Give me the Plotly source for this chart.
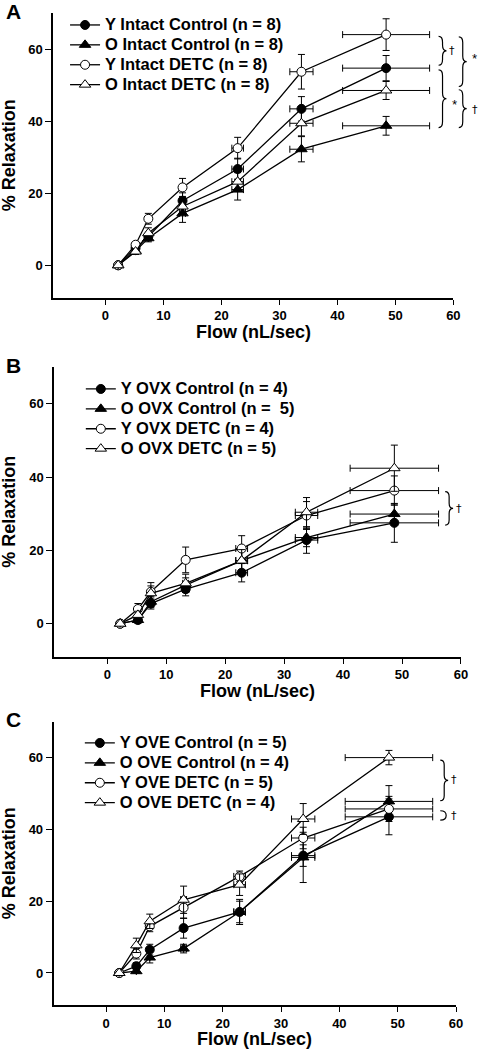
import plotly.graph_objects as go

W, H = 486, 1050
FONT = "Liberation Sans, Arial, sans-serif"

# ---------------- data ----------------
flow_A = [2.2, 5.2, 7.4, 13.3, 22.8, 33.8, 48.4]
flow_A_err = [0, 0, 0, 0.5, 1.0, 2.0, 7.5]
names_A = ["Y Intact Control (n = 8)", "O Intact Control (n = 8)",
           "Y Intact DETC (n = 8)", "O Intact DETC (n = 8)"]
y_A = [
    [0, 4.8, 8.0, 17.9, 26.7, 43.4, 54.7],
    [0, 4.0, 7.5, 14.4, 21.0, 32.2, 38.7],
    [0, 5.7, 12.9, 21.6, 32.5, 53.7, 64.0],
    [0, 3.8, 8.9, 16.3, 23.2, 39.4, 48.5],
]
err_A = [
    [0, 0.8, 1.2, 2.2, 3.0, 3.4, 3.5],
    [0, 0.8, 1.0, 2.5, 2.9, 3.5, 2.6],
    [0, 0.8, 1.5, 2.5, 3.0, 4.8, 4.4],
    [0, 0.8, 1.5, 2.0, 2.5, 3.5, 2.5],
]

flow_B = [2.2, 5.2, 7.4, 13.3, 22.8, 33.8, 48.7]
flow_B_err = [0, 0, 0, 0.5, 1.0, 1.9, 7.5]
names_B = ["Y OVX Control (n = 4)", "O OVX Control (n =  5)",
           "Y OVX DETC (n = 4)", "O OVX DETC (n = 5)"]
y_B = [
    [0, 1.0, 5.5, 9.4, 13.9, 22.8, 27.5],
    [0, 1.0, 6.0, 10.5, 17.2, 23.5, 29.9],
    [0, 4.0, 8.7, 17.4, 20.5, 29.5, 36.3],
    [0, 2.4, 8.3, 11.0, 17.2, 30.4, 42.4],
]
err_B = [
    [0, 0.8, 1.5, 1.8, 2.5, 3.6, 5.3],
    [0, 0.8, 1.5, 2.0, 2.5, 2.5, 2.7],
    [0, 1.5, 2.5, 3.5, 3.5, 3.8, 4.0],
    [0, 1.0, 2.0, 2.5, 3.0, 4.0, 6.3],
]

flow_C = [2.26, 5.2, 7.5, 13.3, 22.9, 33.8, 48.5]
flow_C_err = [0, 0, 0, 0.5, 1.0, 2.0, 7.5]
names_C = ["Y OVE Control (n = 5)", "O OVE Control (n = 4)",
           "Y OVE DETC (n = 5)", "O OVE DETC (n = 4)"]
y_C = [
    [0, 1.9, 6.5, 12.5, 17.0, 32.7, 43.5],
    [0, 0.5, 4.3, 6.8, 17.0, 32.2, 47.8],
    [0, 5.4, 13.0, 18.2, 26.9, 37.6, 45.7],
    [0, 7.7, 14.4, 20.4, 24.6, 42.9, 60.0],
]
err_C = [
    [0, 1.0, 1.5, 2.8, 3.0, 3.0, 5.0],
    [0, 0.5, 1.5, 1.2, 3.5, 7.0, 4.4],
    [0, 1.5, 1.5, 3.0, 1.5, 3.0, 3.5],
    [0, 2.0, 2.0, 3.8, 3.0, 4.3, 2.0],
]

x_ticks = [0, 10, 20, 30, 40, 50, 60]
y_ticks = [0, 20, 40, 60]
panel_letters = ["A", "B", "C"]

# ---------------- styles ----------------
symbols = ["circle", "triangle-up", "circle", "triangle-up"]
fills = ["black", "black", "white", "white"]
sizes = [9, 10, 9, 10]

# pixel geometry for panels: (x0, x1, ytop, ybottom)
panels_px = [(54, 460, 13, 297.7), (55, 467.7, 367, 656.7), (54.3, 462.7, 721.7, 1005.3)]

fig = go.Figure()

datasets = [(flow_A, flow_A_err, names_A, y_A, err_A),
            (flow_B, flow_B_err, names_B, y_B, err_B),
            (flow_C, flow_C_err, names_C, y_C, err_C)]

legend_keys = ["legend", "legend2", "legend3"]
for p, (fx, fxe, names, ys, es) in enumerate(datasets):
    xa = "x" if p == 0 else f"x{p+1}"
    ya = "y" if p == 0 else f"y{p+1}"
    for i in range(4):
        fig.add_trace(go.Scatter(
            x=fx, y=ys[i],
            name=f'<span style="font-size:16.5px">{names[i]}</span>',
            mode="lines+markers",
            xaxis=xa, yaxis=ya, legend=legend_keys[p],
            line=dict(color="black", width=1.3),
            marker=dict(symbol=symbols[i], size=sizes[i], color=fills[i],
                        line=dict(color="black", width=1)),
            error_y=dict(type="data", array=es[i], visible=True,
                         color="black", thickness=1, width=3.5),
            error_x=dict(type="data", array=fxe, visible=True,
                         color="black", thickness=1, width=3.5),
            cliponaxis=False,
        ))

layout = dict(
    width=W, height=H, margin=dict(l=0, r=0, t=0, b=0),
    paper_bgcolor="white", plot_bgcolor="white",
    font=dict(family=FONT, color="black"),
    showlegend=True,
)

annotations = []
shapes = []
for p, (x0, x1, yt, yb) in enumerate(panels_px):
    sfx = "" if p == 0 else str(p + 1)
    xdom = [x0 / W, x1 / W]
    ydom = [1 - yb / H, 1 - yt / H]
    layout[f"xaxis{sfx}"] = dict(
        domain=xdom, range=[-9, 60], tickvals=x_ticks,
        showline=True, linecolor="black", linewidth=1.6, showgrid=False,
        zeroline=False, ticks="outside", ticklen=5, tickwidth=1.2,
        tickcolor="black",
        tickfont=dict(family=FONT, size=13, weight="bold", color="black"),
        anchor=f"y{sfx}", fixedrange=True,
    )
    layout[f"yaxis{sfx}"] = dict(
        domain=ydom, range=[-9, 70], tickvals=y_ticks,
        showline=True, linecolor="black", linewidth=1.6, showgrid=False,
        zeroline=False, ticks="outside", ticklen=6, tickwidth=1.2,
        tickcolor="black",
        tickfont=dict(family=FONT, size=13, weight="bold", color="black"),
        anchor=f"x{sfx}", fixedrange=True,
    )
    # axis titles
    annotations.append(dict(
        text="Flow (nL/sec)", xref="paper", yref="paper",
        x=((x0 + x1) / 2 + 0) / W, y=1 - (yb + 34) / H,
        showarrow=False,
        font=dict(family=FONT, size=18, weight="bold", color="black"),
        xanchor="center", yanchor="middle"))
    annotations.append(dict(
        text="% Relaxation", xref="paper", yref="paper",
        x=9 / W, y=1 - ((yt + yb) / 2) / H, textangle=-90,
        showarrow=False,
        font=dict(family=FONT, size=18, weight="bold", color="black"),
        xanchor="center", yanchor="middle"))
    annotations.append(dict(
        text=panel_letters[p], xref="paper", yref="paper",
        x=4 / W, y=1 - max(yt - 2, 11) / H, showarrow=False,
        font=dict(family=FONT, size=21, weight="bold", color="black"),
        xanchor="left", yanchor="middle"))

# legends
leg_pos = [(66, 10), (82, 374), (81, 728)]
for p, (lx, ly) in enumerate(leg_pos):
    key = legend_keys[p]
    layout[key] = dict(
        x=lx / W, y=1 - ly / H, xanchor="left", yanchor="top",
        bgcolor="rgba(0,0,0,0)", borderwidth=0,
        font=dict(family=FONT, size=13, weight="bold", color="black"),
        traceorder="normal", itemwidth=30, tracegroupgap=0,
    )


def brace(xp, w, ytop, ybot, yref, d=1.6):
    ym = (ytop + ybot) / 2
    a = xp
    b = xp + w / 2
    c = xp + w
    path = (f"M {a},{ytop} Q {b},{ytop} {b},{ytop - d} "
            f"L {b},{ym + d} Q {b},{ym} {c},{ym} "
            f"Q {b},{ym} {b},{ym - d} L {b},{ybot + d} Q {b},{ybot} {a},{ybot}")
    return dict(type="path", path=path, xref="paper", yref=yref,
                line=dict(color="black", width=1.2))


def paren(xp, w, ytop, ybot, yref):
    ym = (ytop + ybot) / 2
    path = (f"M {xp},{ytop} Q {xp + w},{ytop} {xp + w},{ym} "
            f"Q {xp + w},{ybot} {xp},{ybot}")
    return dict(type="path", path=path, xref="paper", yref=yref,
                line=dict(color="black", width=1.2))


def mark(text, xpx, yval, yref, size=12, family="DejaVu Sans"):
    return dict(text=text, xref="paper", yref=yref, x=xpx / W, y=yval,
                showarrow=False, textangle=0.3,
                font=dict(family=family, size=size, color="black"),
                xanchor="center", yanchor="middle")


# Panel A brackets
shapes.append(brace(445 / W, 8 / W, 63.5, 55.5, "y"))
shapes.append(brace(445 / W, 8 / W, 54.2, 38.2, "y"))
shapes.append(brace(465.5 / W, 8 / W, 63.4, 49.6, "y"))
shapes.append(brace(465.5 / W, 8 / W, 48.7, 38.2, "y"))
annotations += [mark("†", 459, 59.5, "y", 11), mark("*", 461, 44.5, "y", 13, FONT),
                mark("*", 481.5, 57.5, "y", 13, FONT), mark("†", 481.5, 43.3, "y", 11)]
# Panel B bracket
shapes.append(brace(451.7 / W, 8 / W, 36.0, 26.9, "y2", d=1.4))
annotations.append(mark("†", 466, 31.3, "y2", 11))
# Panel C brackets
shapes.append(brace(446.7 / W, 8 / W, 59.3, 48.0, "y3", d=1.4))
shapes.append(paren(446.7 / W, 6 / W, 45.2, 42.6, "y3"))
annotations += [mark("†", 460.5, 54.0, "y3", 11), mark("†", 461, 44.0, "y3", 11)]

layout["annotations"] = annotations
layout["shapes"] = shapes
fig.update_layout(**layout)

fig.write_html("out.html", config={"displayModeBar": False},
               post_script="document.body.style.margin='0';")
